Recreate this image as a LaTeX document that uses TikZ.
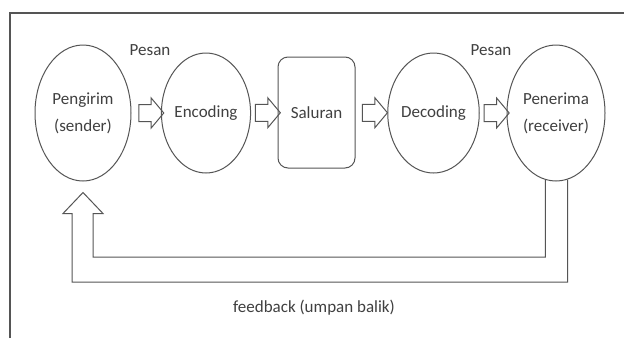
\documentclass[tikz,border=0pt]{standalone}
\usepackage{fontspec}
\setmainfont{Carlito}
\usetikzlibrary{shapes.geometric,shapes.arrows,calc}
\definecolor{ln}{HTML}{555555}
\definecolor{tx}{HTML}{404040}
\tikzset{
  ell/.style={ellipse,draw=ln,line width=1pt,inner sep=0pt,align=center,text=tx,
    font=\fontsize{17}{27}\selectfont},
  rbox/.style={rectangle,rounded corners=10pt,draw=ln,line width=1pt,align=center,text=tx,
    font=\fontsize{17}{27}\selectfont},
  blk/.style={single arrow,draw=ln,line width=1pt,minimum height=25pt,minimum width=0pt,
    inner xsep=0pt,inner ysep=8pt,text height=0pt,text depth=0pt,
    single arrow head extend=6.5pt,single arrow tip angle=100},
  lbl/.style={text=tx,font=\fontsize{17}{20}\selectfont,inner sep=0pt},
  fb/.style={draw=ln,line width=1pt,line join=miter},
  frame/.style={draw=ln,line width=1.2pt}
}
\begin{document}
\begin{tikzpicture}[x=1pt,y=-1pt]
\useasboundingbox (0,0) rectangle (624,338);
\fill[white] (0,0) rectangle (624,338);
\draw[frame] (10,338) -- (10,13) -- (624,13);

\node[ell,minimum width=96pt,minimum height=136pt] (sen) at (83,113) {Pengirim\\(sender)};
\node[ell,minimum width=84pt,minimum height=120pt] (enc) at (206,113) {Encoding};
\node[rbox,minimum width=77pt,minimum height=111pt] (sal) at (316.5,112.5) {Saluran};
\node[ell,minimum width=85pt,minimum height=120pt] (dec) at (433.5,113) {Decoding};
\node[ell,minimum width=98pt,minimum height=136pt] (rec) at (556,113) {Penerima\\(receiver)};

\node[lbl] (p1) at (150,50) {Pesan};
\node[lbl] (p2) at (491,50) {Pesan};

\node[blk] (a1) at ($(sen.east)!0.5!(enc.west)+(1.5,0)$) {};
\node[blk] (a2) at ($(enc.east)!0.5!(sal.west)$) {};
\node[blk] (a3) at ($(sal.east)!0.5!(dec.west)$) {};
\node[blk] (a4) at ($(dec.east)!0.5!(rec.west)$) {};

\coordinate (fbo) at (0,282);
\coordinate (fbi) at (0,257);
\coordinate (tip) at ($(sen.south)+(0,11)$);
\coordinate (sl) at ($(tip)+(-11,21)$);
\coordinate (sr) at ($(tip)+(10,21)$);
\coordinate (wl) at ($(tip)+(-20,21)$);
\coordinate (wr) at ($(tip)+(20,21)$);
\coordinate (ro) at (rec.-80.6);
\coordinate (ri) at (rec.-99.4);
\draw[fb] (ro) -- (ro |- fbo) -- (sl |- fbo) -- (sl) -- (wl)
  -- (tip) -- (wr) -- (sr) -- (sr |- fbi) -- (ri |- fbi) -- (ri);

\node[lbl] (fbl) at (314,308) {feedback (umpan balik)};
\end{tikzpicture}
\end{document}
